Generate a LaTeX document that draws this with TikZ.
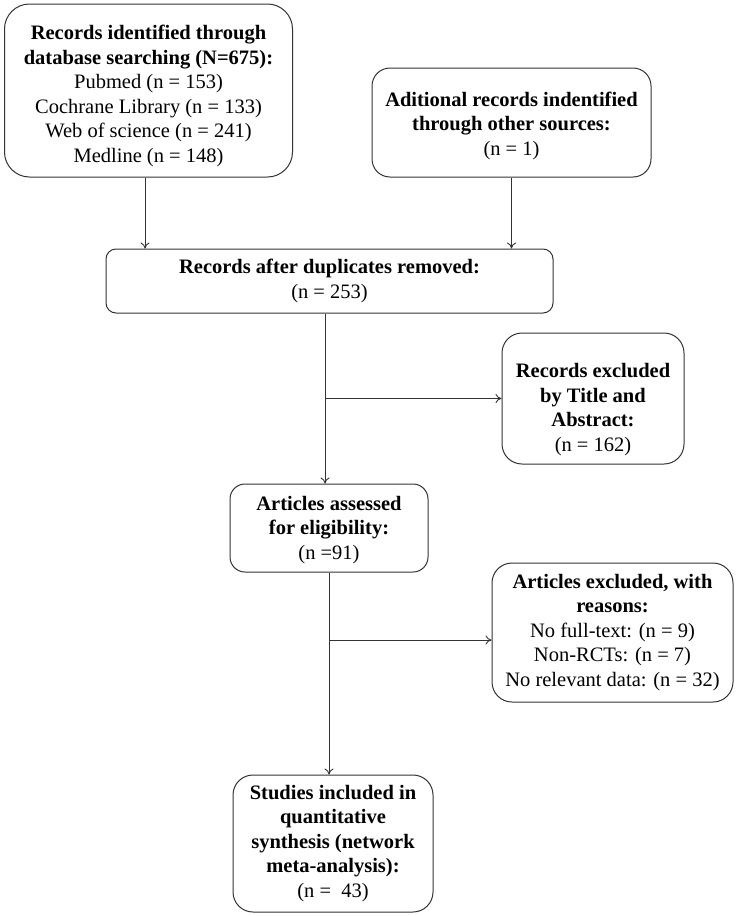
\documentclass[tikz,border=0pt]{standalone}
\usepackage{fontspec}
\setmainfont{Liberation Serif}
\usetikzlibrary{arrows.meta}
\begin{document}
\begin{tikzpicture}[x=1pt,y=-1pt,
  box/.style={draw=black!80, line width=1pt, rounded corners=18pt, inner sep=0pt},
  txt/.style={align=center, font=\fontsize{20.5}{24.5}\selectfont, inner sep=0pt},
  arr/.style={draw=black!80, line width=0.9pt, -{To[length=6pt,width=9pt]}}]
\useasboundingbox (0,0) rectangle (738,916);
% boxes
\node[box, rounded corners=25pt, minimum width=288pt, minimum height=173pt] (b1) at (148.5,90.5) {};
\node[box, minimum width=279pt, minimum height=109pt] (b2) at (511.5,122.5) {};
\node[box, rounded corners=10pt, minimum width=447pt, minimum height=64pt] (b3) at (329.5,281) {};
\node[box, rounded corners=20pt, minimum width=182pt, minimum height=131pt] (b4) at (593,398.5) {};
\node[box, rounded corners=15pt, minimum width=198pt, minimum height=88pt] (b5) at (329,528) {};
\node[box, rounded corners=20pt, minimum width=241pt, minimum height=139pt] (b6) at (612.5,632.5) {};
\node[box, rounded corners=20pt, minimum width=200pt, minimum height=137pt] (b7) at (333,843.5) {};
% texts
\node[txt] (t1) at ([yshift=-5.5pt]b1.center)
  {\textbf{Records identified through}\\\textbf{database searching (N=675):}\\Pubmed (n = 153)\\Cochrane Library (n = 133)\\Web of science (n = 241)\\Medline (n = 148)};
\node[txt] (t2) at ([yshift=-3pt]b2.center)
  {\textbf{Aditional records indentified}\\\textbf{through other sources:}\\(n = 1)};
\node[txt] (t3) at (b3.center)
  {\textbf{Records after duplicates removed:}\\(n = 253)};
\node[txt] (t4) at ([yshift=-11pt]b4.center)
  {\textbf{Records excluded}\\\textbf{by Title and}\\\textbf{Abstract:}\\(n = 162)};
\node[txt] (t5) at ([yshift=-2pt]b5.center)
  {\textbf{Articles assessed}\\\textbf{for eligibility:}\\(n =91)};
\node[txt] (t6) at (b6.center)
  {\textbf{Articles excluded, with}\\\textbf{reasons:}\\No full-text: (n = 9)\\Non-RCTs: (n = 7)\\No relevant data: (n = 32)};
\node[txt] (t7) at (b7.center)
  {\textbf{Studies included in}\\\textbf{quantitative}\\\textbf{synthesis (network}\\\textbf{meta-analysis):}\\(n =\ \ 43)};
% connectors
\coordinate (s1) at ([xshift=-3.5pt]b1.south);
\draw[arr] (s1) -- (s1 |- b3.north);
\draw[arr] (b2.south) -- (b2.south |- b3.north);
\coordinate (s3) at ([xshift=-4.5pt]b3.south);
\draw[arr] (s3) -- (s3 |- b5.north);
\draw[arr] (s3 |- b4.west) -- (b4.west);
\draw[arr] (b5.south) -- (b5.south |- b7.north);
\coordinate (c6) at ([yshift=-7.5pt]b6.west);
\draw[arr] (b5.south |- c6) -- (c6);
\end{tikzpicture}
\end{document}
